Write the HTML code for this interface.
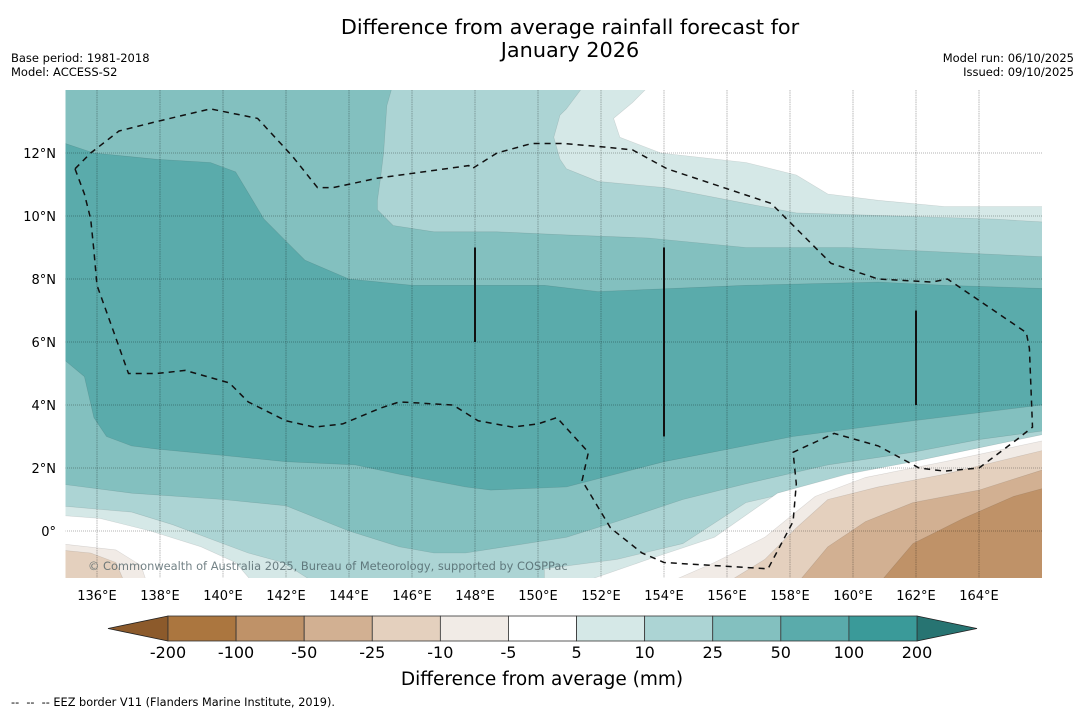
<!DOCTYPE html>
<html><head><meta charset="utf-8"><style>
body{margin:0;background:#fff;}
svg{display:block;font-family:"DejaVu Sans","Liberation Sans",sans-serif;}
</style></head><body>
<svg id="fig" width="1085" height="713" viewBox="0 0 1085 713">
<text x="570" y="34" text-anchor="middle" font-size="20.8">Difference from average rainfall forecast for</text>
<text x="570" y="57" text-anchor="middle" font-size="20.8">January 2026</text>
<text x="11" y="62" font-size="11.5">Base period: 1981-2018</text>
<text x="11" y="76" font-size="11.5">Model: ACCESS-S2</text>
<text x="1074" y="62" font-size="11.5" text-anchor="end">Model run: 06/10/2025</text>
<text x="1074" y="76" font-size="11.5" text-anchor="end">Issued: 09/10/2025</text>
<defs><clipPath id="mapclip"><rect x="65.5" y="90" width="976.5" height="488"/></clipPath></defs>
<g id="map" clip-path="url(#mapclip)"></g>
<g id="axes"></g>
<g id="cbar"></g>
<text x="542" y="685" text-anchor="middle" font-size="18.5">Difference from average (mm)</text>
<text x="11" y="706" font-size="11.3" xml:space="preserve" style="white-space:pre">--  --  -- EEZ border V11 (Flanders Marine Institute, 2019).</text>
</svg>
<script>
const NS="http://www.w3.org/2000/svg";
const lonTicks=[136,138,140,142,144,146,148,150,152,154,156,158,160,162,164];
const latTicks=[0,2,4,6,8,10,12];
const levels=[-200,-100,-50,-25,-10,-5,5,10,25,50,100,200];
const levelColors=["#ab763f","#bf9268","#d2b092","#e4d0be","#f1ebe6","#ffffff","#d5e8e7","#acd4d4","#83c0bf","#5aabab","#3a9a99"];
const lowArrowColor="#8c5a2b", highArrowColor="#277472";
// contour boundaries [lon,lat]
const core50Top=[[135,12.3],[135.9,12.0],[137.9,11.8],[139.6,11.7],[140.4,11.4],[141.3,9.9],[142,9.2],[142.6,8.6],[144,8.0],[146,7.8],[150.2,7.8],[151.9,7.6],[156.6,7.8],[160.8,7.9],[162.9,7.8],[166,7.7]];
const core50Bottom=[[135,5.4],[135.6,4.9],[135.9,3.6],[136.3,3.0],[137.1,2.7],[137.9,2.6],[140,2.4],[142,2.2],[144.2,2.1],[145.6,1.8],[147.7,1.4],[148.5,1.3],[150.9,1.4],[154,2.2],[158.1,3.0],[161.9,3.5],[166,4.0]];
const top10=[[145.4,14.2],[145.2,13.5],[145.1,12],[145,11.2],[144.9,10.5],[144.9,10.2],[145.4,9.7],[146.7,9.5],[148.7,9.5],[150.9,9.4],[153.5,9.3],[156.6,9.0],[159.8,9.0],[161.9,8.9],[166.2,8.7]];
const top5=[[151.5,14.2],[150.9,13.4],[150.7,13.2],[150.5,12.5],[150.7,11.8],[150.9,11.5],[151.9,11.1],[154,10.9],[156.6,10.4],[158.2,10.1],[161.4,10.0],[164.5,9.9],[166.2,9.8]];
const topWhite=[[153.6,14.2],[153,13.6],[152.4,13.1],[152.6,12.5],[153.9,12.0],[156.6,11.7],[158.2,11.3],[159.2,10.7],[160.8,10.5],[162.9,10.3],[166.2,10.3]];
const bot10=[[134.8,1.5],[137.1,1.2],[140,1.0],[142,0.8],[144,0.0],[145.6,-0.5],[146.7,-0.7],[147.7,-0.7],[150.9,-0.2],[152.5,0.3],[154.6,1.0],[156.6,1.5],[159.2,2.1],[161.9,2.5],[164,2.9],[166.2,3.2]];
const bot5=[[134.8,0.8],[137.1,0.6],[138.4,0.2],[140,-0.4],[140.8,-0.7],[141.9,-1.0],[143,-1.7],[150.2,-1.7],[150.2,-1.2],[152.5,-0.9],[154.6,-0.4],[156.6,0.9],[159.2,1.5],[161.9,2.1],[166.2,3.0]];
const botWhite=[[134.8,0.5],[136.1,0.4],[137.7,0.0],[139.3,-0.5],[140.4,-1.0],[141,-1.7],[151.2,-1.7],[153.5,-0.9],[155.6,-0.2],[157.6,1.2],[159.8,1.8],[161.9,2.2],[166.2,3.1]];
const botNeg5=[[154,-1.7],[155.6,-1.0],[157.2,-0.2],[158.8,1.1],[160.4,1.7],[162.9,2.2],[166.2,2.9]];
const botNeg10=[[155.9,-1.7],[157.2,-0.9],[158.2,0.1],[159.2,1.0],[160.8,1.4],[162.9,1.8],[166.2,2.6]];
const botNeg25=[[158.2,-1.7],[159.2,-0.5],[160.4,0.3],[161.9,0.9],[164,1.3],[166.2,2.0]];
const botNeg50=[[160.8,-1.7],[161.9,-0.4],[163.5,0.4],[165.1,1.1],[166.2,1.4]];
const leftNeg5=[[134.8,-0.4],[136.6,-0.6],[137.4,-1.1],[137.6,-1.7]];
const leftNeg10=[[134.8,-0.6],[135.8,-0.7],[136.6,-1.0],[136.9,-1.7]];
const eez=[[135.3,11.5],[135.8,12.0],[136.7,12.7],[137.9,13.0],[139.6,13.4],[141.1,13.1],[142.2,11.9],[143,10.9],[143.5,10.9],[144.9,11.2],[147.8,11.6],[147.9,11.5],[148.7,12.0],[149.8,12.3],[150.8,12.3],[152,12.2],[153,12.1],[154.1,11.5],[157.4,10.4],[159.3,8.5],[160.8,8.0],[162.5,7.9],[163,8.0],[165.5,6.3],[165.6,5.8],[165.7,3.3],[165.2,2.9],[164,2.0],[162.9,1.9],[162.1,2.0],[160.8,2.7],[159.4,3.1],[158.1,2.5],[158.2,1.5],[158.1,0.3],[157.3,-1.2],[154,-1.0],[153.3,-0.7],[152.3,0.1],[151.4,1.6],[151.6,2.5],[150.6,3.6],[150,3.4],[149.2,3.3],[148.1,3.5],[147.3,4.0],[145.6,4.1],[145,3.9],[143.8,3.4],[142.9,3.3],[142,3.5],[140.8,4.1],[140.2,4.7],[138.8,5.1],[137.9,5.0],[137,5.0],[136.5,6.4],[136,7.8],[135.9,8.9],[135.8,9.9],[135.6,10.7]];
const eezSolid=[[148,6,9],[154,3,9],[162,4,7]];

const X=lon=>65.5+(lon-135)*31.5;
const Y=lat=>531-lat*31.5;
const map=document.getElementById('map');
function pts(a){return a.map(p=>X(p[0]).toFixed(1)+','+Y(p[1]).toFixed(1)).join(' ');}
function poly(parent,arr,fill,name){
  const e=document.createElementNS(NS,'polygon');
  e.setAttribute('points',pts(arr));e.setAttribute('fill',fill);
  e.setAttribute('stroke','rgba(0,0,0,0.12)');e.setAttribute('stroke-width','0.6');
  
  
  parent.appendChild(e);return e;
}
const bg=document.createElementNS(NS,'rect');
bg.setAttribute('x',X(134.8));bg.setAttribute('y',Y(14.2));bg.setAttribute('width',X(166.2)-X(134.8));bg.setAttribute('height',Y(-1.7)-Y(14.2));bg.setAttribute('fill',levelColors[8]);


map.appendChild(bg);
poly(map,[[134.8,core50Top[0][1]]].concat(core50Top,[[166.2,7.7],[166.2,4.0]],core50Bottom.slice().reverse(),[[134.8,5.4]]),levelColors[9],'contour-50-100');
const topClose=a=>a.concat([[166.2,14.2]]);
poly(map,topClose(top10),levelColors[7],'contour-top-10-25');
poly(map,topClose(top5),levelColors[6],'contour-top-5-10');
poly(map,topClose(topWhite),levelColors[5],'contour-top-near-average');
const botCloseR=a=>a.concat([[166.2,-1.7]]);
const botCloseL=a=>[[134.8,-1.7]].concat(a).concat([[166.2,-1.7]]);
poly(map,botCloseL(bot10),levelColors[7],'contour-bottom-10-25');
poly(map,botCloseL(bot5),levelColors[6],'contour-bottom-5-10');
poly(map,botCloseL(botWhite),levelColors[5],'contour-bottom-near-average');
poly(map,botCloseR(botNeg5),levelColors[4],'contour-minus-5-10');
poly(map,botCloseR(botNeg10),levelColors[3],'contour-minus-10-25');
poly(map,botCloseR(botNeg25),levelColors[2],'contour-minus-25-50');
poly(map,botCloseR(botNeg50),levelColors[1],'contour-minus-50-100');
poly(map,leftNeg5.concat([[134.8,-1.7]]),levelColors[4],'contour-left-minus-5-10');
poly(map,leftNeg10.concat([[134.8,-1.7]]),levelColors[3],'contour-left-minus-10-25');
lonTicks.forEach(l=>{
  const g=document.createElementNS(NS,'line');
  g.setAttribute('x1',X(l));g.setAttribute('x2',X(l));g.setAttribute('y1',90);g.setAttribute('y2',578);
  g.setAttribute('stroke','rgba(0,0,0,0.35)');g.setAttribute('stroke-width','0.8');g.setAttribute('stroke-dasharray','1.5,0.8');
  
  
  map.appendChild(g);
});
latTicks.forEach(l=>{
  const g=document.createElementNS(NS,'line');
  g.setAttribute('x1',65);g.setAttribute('x2',1042);g.setAttribute('y1',Y(l));g.setAttribute('y2',Y(l));
  g.setAttribute('stroke','rgba(0,0,0,0.4)');g.setAttribute('stroke-width','0.8');g.setAttribute('stroke-dasharray','1,1');
  
  
  map.appendChild(g);
});
const ez=document.createElementNS(NS,'polygon');
ez.setAttribute('points',pts(eez));ez.setAttribute('fill','none');ez.setAttribute('stroke','#111');ez.setAttribute('stroke-width','1.5');ez.setAttribute('stroke-dasharray','6,5');


map.appendChild(ez);
eezSolid.forEach(s=>{
  const l=document.createElementNS(NS,'line');
  l.setAttribute('x1',X(s[0]));l.setAttribute('x2',X(s[0]));l.setAttribute('y1',Y(s[2]));l.setAttribute('y2',Y(s[1]));
  l.setAttribute('stroke','#111');l.setAttribute('stroke-width','2');
  
  
  map.appendChild(l);
});
const cp=document.createElementNS(NS,'text');
cp.setAttribute('x',88);cp.setAttribute('y',570);cp.setAttribute('font-size','11.4');cp.setAttribute('fill','rgba(70,90,95,0.75)');
cp.textContent='© Commonwealth of Australia 2025, Bureau of Meteorology, supported by COSPPac';


map.appendChild(cp);
const axes=document.getElementById('axes');
lonTicks.forEach(l=>{
  const t=document.createElementNS(NS,'text');
  t.setAttribute('x',X(l));t.setAttribute('y',600);t.setAttribute('text-anchor','middle');t.setAttribute('font-size','13');
  t.textContent=l+'°E';
  
  
  axes.appendChild(t);
});
latTicks.forEach(l=>{
  const t=document.createElementNS(NS,'text');
  t.setAttribute('x',56);t.setAttribute('y',Y(l)+5);t.setAttribute('text-anchor','end');t.setAttribute('font-size','13');
  t.textContent=l===0?'0°':l+'°N';
  
  
  axes.appendChild(t);
});
const cb=document.getElementById('cbar');
const cx0=168,cx1=917,cy0=616,cy1=641;
const bw=(cx1-cx0)/levelColors.length;
const la=document.createElementNS(NS,'polygon');
la.setAttribute('points',`${cx0},${cy0} ${108},${(cy0+cy1)/2} ${cx0},${cy1}`);la.setAttribute('fill',lowArrowColor);la.setAttribute('stroke','#222');la.setAttribute('stroke-width','0.8');


cb.appendChild(la);
const ra=document.createElementNS(NS,'polygon');
ra.setAttribute('points',`${cx1},${cy0} ${977},${(cy0+cy1)/2} ${cx1},${cy1}`);ra.setAttribute('fill',highArrowColor);ra.setAttribute('stroke','#222');ra.setAttribute('stroke-width','0.8');


cb.appendChild(ra);
levelColors.forEach((c,i)=>{
  const r=document.createElementNS(NS,'rect');
  r.setAttribute('x',cx0+i*bw);r.setAttribute('y',cy0);r.setAttribute('width',bw);r.setAttribute('height',cy1-cy0);r.setAttribute('fill',c);
  r.setAttribute('stroke','#333');r.setAttribute('stroke-width','0.8');
  
  
  cb.appendChild(r);
});
levels.forEach((v,i)=>{
  const t=document.createElementNS(NS,'text');
  t.setAttribute('x',cx0+i*bw);t.setAttribute('y',658);t.setAttribute('text-anchor','middle');t.setAttribute('font-size','16');
  t.textContent=v;
  
  
  cb.appendChild(t);
});
</script>
</body></html>
